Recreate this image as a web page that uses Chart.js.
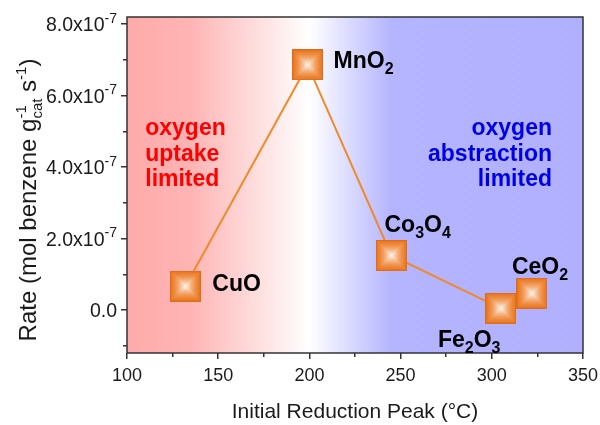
<!DOCTYPE html>
<html>
<head>
<meta charset="utf-8">
<script src="https://cdn.jsdelivr.net/npm/chart.js@4/dist/chart.umd.min.js"></script>
<style>
  html, body { margin: 0; padding: 0; background: #ffffff; }
  canvas { display: block; }
</style>
</head>
<body>
<canvas id="chart" width="600" height="425"></canvas>
<script>
// ---- data ----
const catalysts = ['CuO', 'MnO2', 'Co3O4', 'Fe2O3', 'CeO2'];
const catalystLabels = ['CuO', 'MnO_{2}', 'Co_{3}O_{4}', 'Fe_{2}O_{3}', 'CeO_{2}'];
const reductionPeakC = [132, 199, 245, 305, 322];          // initial reduction peak, °C
const rateMolPerGs = [0.67e-7, 6.86e-7, 1.53e-7, 0.05e-7, 0.47e-7]; // mol benzene g_cat^-1 s^-1
// catalysts joined by the trend line
const trendCatalysts = ['CuO', 'MnO2', 'Co3O4', 'Fe2O3'];

const xMajorTicks = [100, 150, 200, 250, 300, 350];
const xMinorTicks = [125, 175, 225, 275, 325];
const yMajorTicks = [0, 2e-7, 4e-7, 6e-7, 8e-7];
const yMajorTickLabels = ['0.0', '2.0x10^{-7}', '4.0x10^{-7}', '6.0x10^{-7}', '8.0x10^{-7}'];
const yMinorTicks = [-1e-7, 1e-7, 3e-7, 5e-7, 7e-7];

const regionLeftLines = ['oxygen', 'uptake', 'limited'];
const regionRightLines = ['oxygen', 'abstraction', 'limited'];

const xTitle = 'Initial Reduction Peak (°C)';
const yTitle = 'Rate (mol benzene g_{cat}^{-1} s^{-1})';

// ---- styling ----
const FAMILY = "'Liberation Sans', Arial, Helvetica, sans-serif";
const AXIS_COLOR = '#333333';
const TEXT_COLOR = '#1a1a1a';

// label placement relative to each marker centre (pixels)
const labelOffsets = {
  'CuO':   { dx: 27,  dy: -3 },
  'MnO2':  { dx: 26,  dy: -5 },
  'Co3O4': { dx: -7,  dy: -32 },
  'Fe2O3': { dx: -63, dy: 30 },
  'CeO2':  { dx: -20, dy: -28 }
};

// background band: pink (oxygen uptake) -> white -> lavender (oxygen abstraction)
const bandStops = [
  { x: 100, color: 'rgb(255,170,170)' },
  { x: 135, color: 'rgb(255,180,180)' },
  { x: 200, color: 'rgb(255,255,255)' },
  { x: 245, color: 'rgb(180,180,255)' },
  { x: 350, color: 'rgb(176,176,255)' }
];

// ---- rich text helpers (sub/superscripts) ----
function parseRich(s) {
  const out = []; let buf = ''; let i = 0;
  while (i < s.length) {
    const ch = s[i];
    if ((ch === '_' || ch === '^') && s[i + 1] === '{') {
      if (buf) { out.push({ t: buf, m: 0 }); buf = ''; }
      const end = s.indexOf('}', i);
      out.push({ t: s.slice(i + 2, end), m: ch === '_' ? -1 : 1 });
      i = end + 1;
    } else { buf += ch; i++; }
  }
  if (buf) out.push({ t: buf, m: 0 });
  return out;
}

function layoutRich(ctx, segs, size, weight, ratio) {
  let x = 0; const items = [];
  for (let k = 0; k < segs.length; k++) {
    const s = segs[k];
    const fs = s.m === 0 ? size : Math.round(size * ratio);
    const font = `${weight} ${fs}px ${FAMILY}`;
    ctx.font = font;
    const w = ctx.measureText(s.t).width;
    const dy = s.m === 0 ? 0 : (s.m < 0 ? size * 0.27 : -size * 0.42);
    items.push({ t: s.t, x, dy, font });
    const next = segs[k + 1];
    if (s.m === -1 && next && next.m === 1) {
      const w2 = ctx.measureText(next.t).width;
      items.push({ t: next.t, x, dy: -size * 0.42, font });
      x += Math.max(w, w2); k++;
    } else {
      x += w;
    }
  }
  return { items, width: x };
}

function drawRich(ctx, str, x, y, size, weight, color, align, ratio = 0.68) {
  const lay = layoutRich(ctx, parseRich(str), size, weight, ratio);
  const x0 = align === 'right' ? x - lay.width : align === 'center' ? x - lay.width / 2 : x;
  const base = y + size * 0.36; // y is the middle of the capitals
  ctx.fillStyle = color;
  ctx.textAlign = 'left';
  ctx.textBaseline = 'alphabetic';
  for (const it of lay.items) {
    ctx.font = it.font;
    ctx.fillText(it.t, x0 + it.x, base + it.dy);
  }
}

// ---- square marker with a bright centre ----
function makeMarker(size) {
  const c = document.createElement('canvas');
  c.width = c.height = size;
  const g = c.getContext('2d');
  const edge = [236, 122, 36], centre = [255, 252, 246];
  const half = size / 2;
  for (let i = 0; i < half; i += 0.5) {
    const t = Math.pow(i / half, 1.6);
    const col = edge.map((e, j) => Math.round(e + (centre[j] - e) * t));
    g.fillStyle = `rgb(${col[0]},${col[1]},${col[2]})`;
    g.fillRect(i, i, size - 2 * i, size - 2 * i);
  }
  g.strokeStyle = 'rgb(224,108,22)';
  g.lineWidth = 1.2;
  g.strokeRect(0.6, 0.6, size - 1.2, size - 1.2);
  return c;
}
const marker = makeMarker(31);

const allPoints = catalysts.map((name, i) => ({ x: reductionPeakC[i], y: rateMolPerGs[i], name }));
const trendPoints = allPoints.filter(p => trendCatalysts.includes(p.name));

const decorations = {
  id: 'decorations',
  beforeDraw(chart) {
    const { ctx, chartArea: a, scales } = chart;
    const grad = ctx.createLinearGradient(a.left, 0, a.right, 0);
    for (const s of bandStops) {
      const p = (scales.x.getPixelForValue(s.x) - a.left) / (a.right - a.left);
      grad.addColorStop(Math.min(1, Math.max(0, p)), s.color);
    }
    ctx.save();
    ctx.fillStyle = grad;
    ctx.fillRect(a.left, a.top, a.right - a.left, a.bottom - a.top);

    // region annotations
    const lx = scales.x.getPixelForValue(110);
    const rx = scales.x.getPixelForValue(333);
    const ly = scales.y.getPixelForValue(5.12e-7);
    regionLeftLines.forEach((t, i) => drawRich(ctx, t, lx, ly + i * 25.5, 23, 'bold', '#ff0000', 'left'));
    regionRightLines.forEach((t, i) => drawRich(ctx, t, rx, ly + i * 25.5, 23, 'bold', '#0000e6', 'right'));
    ctx.restore();
  },
  afterDraw(chart) {
    const { ctx, chartArea: a, scales } = chart;
    ctx.save();
    // frame
    ctx.strokeStyle = AXIS_COLOR;
    ctx.lineWidth = 1.5;
    ctx.strokeRect(a.left, a.top, a.right - a.left, a.bottom - a.top);

    // y tick labels
    yMajorTicks.forEach((v, i) => {
      drawRich(ctx, yMajorTickLabels[i], a.left - 10, scales.y.getPixelForValue(v), 19.5, 'normal', TEXT_COLOR, 'right', 0.7);
    });

    // axis titles
    drawRich(ctx, xTitle, (a.left + a.right) / 2, 410, 21, 'normal', TEXT_COLOR, 'center');
    ctx.save();
    ctx.translate(27, 200);
    ctx.rotate(-Math.PI / 2);
    drawRich(ctx, yTitle, 0, 0, 24, 'normal', TEXT_COLOR, 'center', 0.64);
    ctx.restore();

    // catalyst labels
    catalysts.forEach((name, i) => {
      const px = scales.x.getPixelForValue(reductionPeakC[i]);
      const py = scales.y.getPixelForValue(rateMolPerGs[i]);
      const o = labelOffsets[name];
      drawRich(ctx, catalystLabels[i], px + o.dx, py + o.dy, 23, 'bold', '#000000', 'left');
    });
    ctx.restore();
  }
};

const tickGrid = (len) => ({
  drawOnChartArea: false, drawTicks: true, tickLength: len,
  color: AXIS_COLOR, tickColor: AXIS_COLOR, lineWidth: 1.5, tickWidth: 1.5
});
const noEdgePadding = s => { s.paddingLeft = 0; s.paddingRight = 0; s.paddingTop = 0; s.paddingBottom = 0; };

new Chart(document.getElementById('chart'), {
  type: 'scatter',
  data: {
    datasets: [
      {
        label: 'trend',
        data: trendPoints,
        showLine: true,
        borderColor: 'rgb(240,138,40)',
        borderWidth: 2,
        pointRadius: 0,
        order: 2
      },
      {
        label: 'catalysts',
        data: allPoints,
        pointStyle: marker,
        pointRadius: 16,
        showLine: false,
        order: 1
      }
    ]
  },
  options: {
    responsive: false,
    animation: false,
    devicePixelRatio: 1,
    layout: { padding: { top: 15, right: 17, left: 0, bottom: 0 } },
    plugins: { legend: { display: false }, tooltip: { enabled: false } },
    scales: {
      x: {
        type: 'linear', position: 'bottom', min: 100, max: 350, weight: 1,
        afterBuildTicks: s => { s.ticks = xMajorTicks.map(v => ({ value: v })); },
        afterFit: s => { s.height = 72; noEdgePadding(s); },
        ticks: { font: { family: FAMILY, size: 18 }, color: TEXT_COLOR, padding: 6, maxRotation: 0, autoSkip: false, callback: v => String(v) },
        grid: tickGrid(6),
        border: { display: false }
      },
      xMinor: {
        type: 'linear', position: 'bottom', min: 100, max: 350, weight: 0,
        afterBuildTicks: s => { s.ticks = xMinorTicks.map(v => ({ value: v })); },
        afterFit: s => { s.height = 0; noEdgePadding(s); },
        ticks: { display: false },
        grid: tickGrid(4),
        border: { display: false }
      },
      y: {
        type: 'linear', position: 'left', min: -1.2e-7, max: 8.2e-7, weight: 1,
        afterBuildTicks: s => { s.ticks = yMajorTicks.map(v => ({ value: v })); },
        afterFit: s => { s.width = 127; noEdgePadding(s); },
        ticks: { display: false },
        grid: tickGrid(6),
        border: { display: false }
      },
      yMinor: {
        type: 'linear', position: 'left', min: -1.2e-7, max: 8.2e-7, weight: 0,
        afterBuildTicks: s => { s.ticks = yMinorTicks.map(v => ({ value: v })); },
        afterFit: s => { s.width = 0; noEdgePadding(s); },
        ticks: { display: false },
        grid: tickGrid(4),
        border: { display: false }
      }
    }
  },
  plugins: [decorations]
});
</script>
</body>
</html>
